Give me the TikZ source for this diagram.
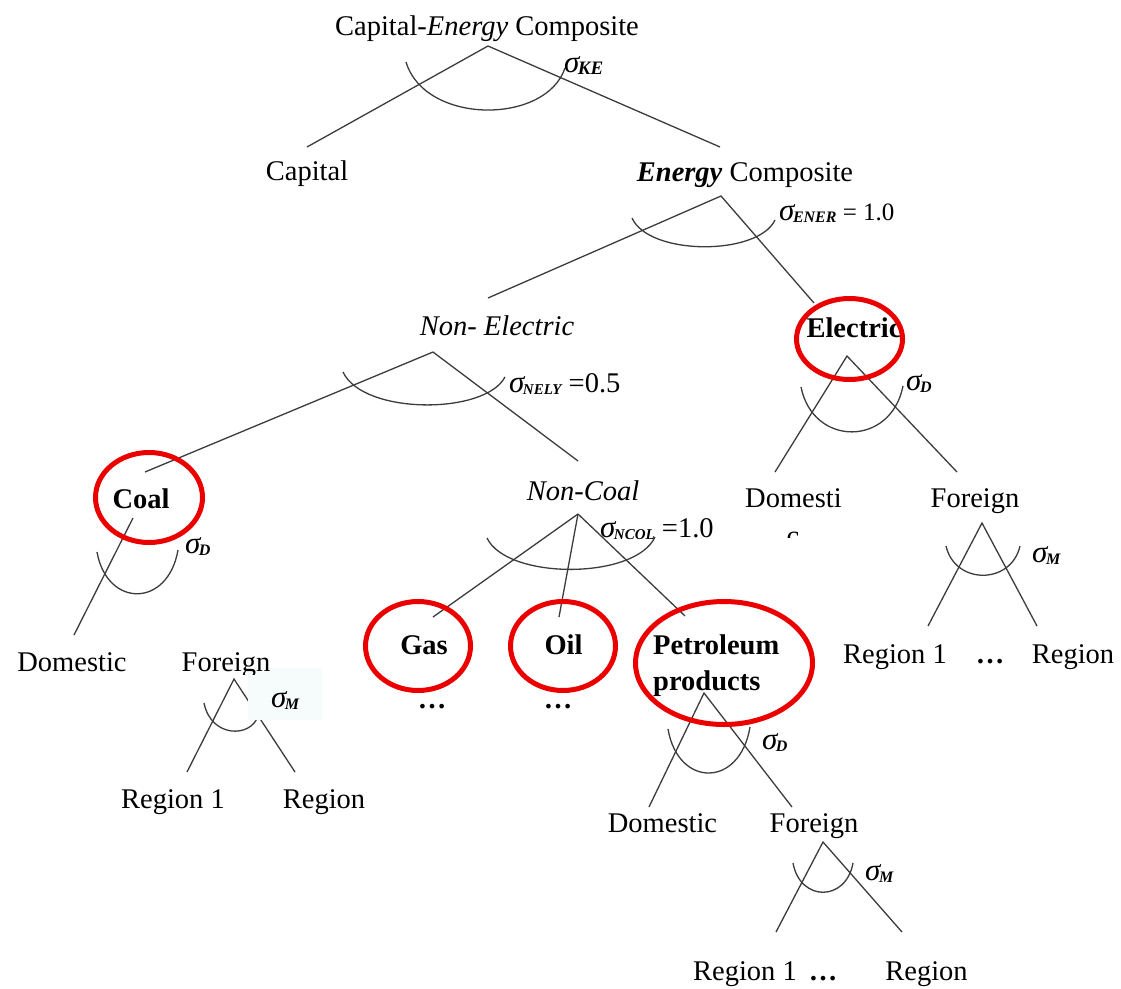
\documentclass[tikz,border=0pt]{standalone}
\usepackage{fontspec}
\setmainfont{Liberation Serif}
\usetikzlibrary{shapes.geometric}
\definecolor{ringred}{RGB}{235,0,0}
\definecolor{linegray}{RGB}{60,60,60}
\definecolor{paleblue}{RGB}{246,251,252}
\newcommand\sigl[2][16]{{\fontsize{31}{30}\selectfont\itshape σ}\kern-1.5pt\raisebox{-2.5pt}{\fontsize{#1}{#1}\selectfont\bfseries\itshape #2}}
\begin{document}
\begin{tikzpicture}[x=1pt,y=-1pt,
  lbl/.style={anchor=base,inner sep=0pt,font=\fontsize{28.5}{33}\selectfont},
  lblw/.style={anchor=base west,inner sep=0pt,font=\fontsize{28.5}{33}\selectfont},
  sg/.style={anchor=base west,inner sep=0pt,font=\fontsize{28.5}{33}\selectfont},
  edge/.style={draw=linegray,line width=1.3pt},
  arcst/.style={draw=linegray,line width=1.3pt},
  ring/.style={draw=ringred,line width=5pt,ellipse,inner sep=0pt,minimum width=#1},
]
\useasboundingbox[fill=white] (0,0) rectangle (1121,988);

% ---------- vertices and free ends ----------
\coordinate (vTop) at (488,46);
\coordinate (eCap) at (307,147);
\coordinate (eEn) at (720,147);
\coordinate (vEn) at (721,196);
\coordinate (eNE) at (488,298);
\coordinate (eEl) at (814,303);
\coordinate (vNE) at (433,352);
\coordinate (eCoal) at (145,472);
\coordinate (eNC) at (578,461);
\coordinate (vEl) at (847,356);
\coordinate (eElD) at (775,472);
\coordinate (eElF) at (957,472);
\coordinate (vElF) at (982,523);
\coordinate (eElR1) at (928,626);
\coordinate (eElRn) at (1037,626);
\coordinate (vCoal) at (133,518);
\coordinate (eCoD) at (74,635);
\coordinate (vCoF) at (234,679);
\coordinate (eCoR1) at (187,772);
\coordinate (eCoRn) at (295,772);
\coordinate (vNC) at (578,514);
\coordinate (eGas) at (433,617);
\coordinate (eOil) at (559,617);
\coordinate (ePet) at (685,616);
\coordinate (vPet) at (704,693);
\coordinate (ePD) at (649,807);
\coordinate (ePF) at (792,807);
\coordinate (vPF) at (823,842);
\coordinate (ePR1) at (776,932);
\coordinate (ePRn) at (902,932);

% ---------- connectors ----------
\draw[edge] (eCap) -- (vTop) -- (eEn);
\draw[edge] (eNE) -- (vEn) -- (eEl);
\draw[edge] (eCoal) -- (vNE) -- (eNC);
\draw[edge] (eElD) -- (vEl) -- (eElF);
\draw[edge] (eElR1) -- (vElF) -- (eElRn);
\draw[edge] (vCoal) -- (eCoD);
\draw[edge] (eCoR1) -- (vCoF) -- (eCoRn);
\draw[edge] (vNC) -- (eGas);
\draw[edge] (vNC) -- (eOil);
\draw[edge] (vNC) -- (ePet);
\draw[edge] (ePD) -- (vPet) -- (ePF);
\draw[edge] (ePR1) -- (vPF) -- (ePRn);

% ---------- elasticity arcs ----------
\draw[arcst] (406,62) .. controls (425,125) and (546,125) .. (565,68);
\draw[arcst] (632,218) .. controls (649,256) and (758,256) .. (775,220);
\draw[arcst] (343,372) .. controls (363,415) and (485,415) .. (505,377);
\draw[arcst] (801,387) .. controls (813,447) and (891,447) .. (903,386);
\draw[arcst] (946,546) .. controls (955,585) and (1011,585) .. (1020,546);
\draw[arcst] (97,552) .. controls (107,608) and (168,608) .. (178,550);
\draw[arcst] (204,703) .. controls (211,738) and (251,738) .. (258,716);
\draw[arcst] (487,538) .. controls (507,580) and (635,580) .. (655,537);
\draw[arcst] (668,729) .. controls (678,788) and (740,788) .. (750,727);
\draw[arcst] (793,863) .. controls (800,902) and (846,902) .. (853,863);

% pale box over the coal import nest
\fill[paleblue] (248,668) rectangle (322,720);

% ---------- labels ----------
\node[lbl] (top) at (487,35) {Capital-\textit{Energy} Composite};
\node[lbl] (cap) at (307,180) {Capital};
\node[lbl] (en) at (745,181) {\textbf{\textit{Energy}} Composite};
\node[lbl] (ne) at (497,335) {\textit{Non- Electric}};
\node[lbl] (el) at (854,337) {\textbf{Electric}};
\node[lbl] (coal) at (141,508) {\textbf{Coal}};
\node[lbl] (nc) at (583,500) {\textit{Non-Coal}};
\node[lblw] (elD) at (745,507) {Domesti};
\begin{scope}
  \clip (770,520) rectangle (815,537);
  \node[lbl] (elDc) at (793,545) {c};
\end{scope}
\node[lbl] (elF) at (975,507) {Foreign};
\node[lbl] (elR1) at (895,663) {Region 1};
\node[lbl] (elDots) at (990,663) {\textbf{…}};
\node[lbl] (elRn) at (1073,663) {Region};
\node[lbl] (coD) at (72,671) {Domestic};
\begin{scope}
  \clip (170,630) rectangle (290,674);
  \node[lbl] (coF) at (226,671) {Foreign};
\end{scope}
\node[lbl] (coR1) at (173,808) {Region 1};
\node[lbl] (coRn) at (324,808) {Region};
\node[lbl] (gas) at (424,654) {\textbf{Gas}};
\node[lbl] (oil) at (563.5,654) {\textbf{Oil}};
\node[lbl] (gasDots) at (432,708) {\textbf{…}};
\node[lbl] (oilDots) at (558,708) {\textbf{…}};
\node[lblw] (pet) at (653,654) {\textbf{Petroleum}};
\node[lblw] (pet2) at (653,690) {\textbf{products}};
\node[lbl] (pD) at (662.5,832) {Domestic};
\node[lbl] (pF) at (814,832) {Foreign};
\node[lbl] (pR1) at (745,980) {Region 1};
\node[lbl] (pDots) at (823,980) {\textbf{…}};
\node[lbl] (pRn) at (926.5,980) {Region};

% ---------- sigma labels ----------
\node[sg] (sKE) at (564,72) {\sigl[19]{KE}};
\node[sg,font=\fontsize{25}{30}\selectfont] (sEN) at (779,220) {\sigl{ENER} = 1.0};
\node[sg] (sNE) at (509,392) {\sigl[15]{NELY} =0.5};
\node[sg] (sElD) at (906,390) {\sigl{D}};
\node[sg] (sElM) at (1032,562) {\sigl{M}};
\node[sg] (sNC) at (600,537) {\sigl[15]{NCOL} =1.0};
\node[sg] (sCoD) at (185,553) {\sigl{D}};
\node[sg] (sCoM) at (271,707) {\sigl{M}};
\node[sg] (sPD) at (762,749) {\sigl{D}};
\node[sg] (sPM) at (865,880) {\sigl{M}};

% ---------- red highlight rings ----------
\node[ring=106pt,minimum height=81pt] (rEl) at (849.5,339) {};
\node[ring=107pt,minimum height=90pt] (rCoal) at (149,497.5) {};
\node[ring=105pt,minimum height=89pt] (rGas) at (418,646) {};
\node[ring=105pt,minimum height=89pt] (rOil) at (563,646) {};
\node[ring=177pt,minimum height=123pt] (rPet) at (724,663) {};
\end{tikzpicture}
\end{document}
